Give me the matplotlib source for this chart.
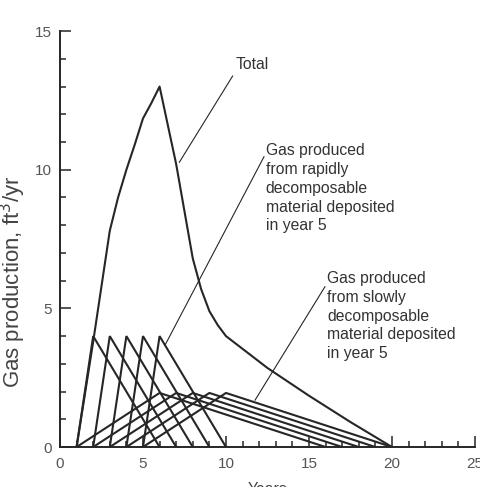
import matplotlib
matplotlib.use("Agg")
import matplotlib.pyplot as plt
from matplotlib.ticker import MultipleLocator

plt.rcParams['font.family'] = ['Liberation Sans', 'DejaVu Sans']

# gas from rapidly decomposable material, one triangle per deposit year
rapid_years = [
    [1, 2, 6],
    [2, 3, 7],
    [3, 4, 8],
    [4, 5, 9],
    [5, 6, 10],
]
rapid_gas = [0, 4, 0]

# gas from slowly decomposable material, one triangle per deposit year
slow_years = [
    [1, 6, 16],
    [2, 7, 17],
    [3, 8, 18],
    [4, 9, 19],
    [5, 10, 20],
]
slow_gas = [0, 1.95, 0]

# total curve
total_years = [1, 2, 3, 3.5, 4, 4.5, 5, 5.5, 6, 7, 8, 8.5, 9, 9.5, 10, 12.5, 15, 17.5, 20]
total_gas = [0, 3.8, 7.8, 9.0, 10.0, 10.9, 11.85, 12.4, 13.0, 10.2, 6.8, 5.7, 4.9, 4.4, 4.0, 2.85, 1.85, 0.9, 0]

ink = '#262626'

fig = plt.figure(figsize=(4.81, 4.87), dpi=100)
ax = fig.add_axes([0.1247, 0.0821, 0.8628, 0.854])

for yrs in rapid_years:
    ax.plot(yrs, rapid_gas, color=ink, lw=1.5, solid_joinstyle='miter')
for yrs in slow_years:
    ax.plot(yrs, slow_gas, color=ink, lw=1.5, solid_joinstyle='round')
ax.plot(total_years, total_gas, color=ink, lw=1.5)

ax.set_xlim(0, 25)
ax.set_ylim(0, 15)
ax.xaxis.set_major_locator(MultipleLocator(5))
ax.xaxis.set_minor_locator(MultipleLocator(1))
ax.yaxis.set_major_locator(MultipleLocator(5))
ax.yaxis.set_minor_locator(MultipleLocator(1))
ax.tick_params(which='both', direction='in', color=ink, width=1.1,
               labelsize=11, labelcolor='#555555')
ax.tick_params(which='major', length=8)
ax.tick_params(which='minor', length=4.5)
ax.tick_params(axis='x', pad=7)
ax.tick_params(axis='y', pad=6)
for side in ['top', 'right']:
    ax.spines[side].set_visible(False)
for side in ['left', 'bottom']:
    ax.spines[side].set_linewidth(1.4)
    ax.spines[side].set_color(ink)

ax.set_ylabel("Gas production, ft$^3$/yr", fontsize=16, color='#444444')
ax.yaxis.set_label_coords(-0.076, 0.397)
ax.set_xlabel("Years", fontsize=11.3, color='#444444', va='top')
ax.xaxis.set_label_coords(0.5, -0.084)

# annotations
txt = dict(fontsize=11.3, color='#333333', ha='left', va='top', linespacing=1.32)
ax.text(10.6, 14.05, "Total", **txt)
ax.plot([10.4, 7.19], [13.38, 10.27], color=ink, lw=0.8)

ax.text(12.39, 10.96, "Gas produced\nfrom rapidly\ndecomposable\nmaterial deposited\nin year 5", **txt)
ax.plot([12.29, 6.35], [10.47, 3.7], color=ink, lw=0.8)

ax.text(16.1, 6.35, "Gas produced\nfrom slowly\ndecomposable\nmaterial deposited\nin year 5", **txt)
ax.plot([15.96, 11.75], [5.78, 1.69], color=ink, lw=0.8)

fig.savefig("out.png", dpi=100)
